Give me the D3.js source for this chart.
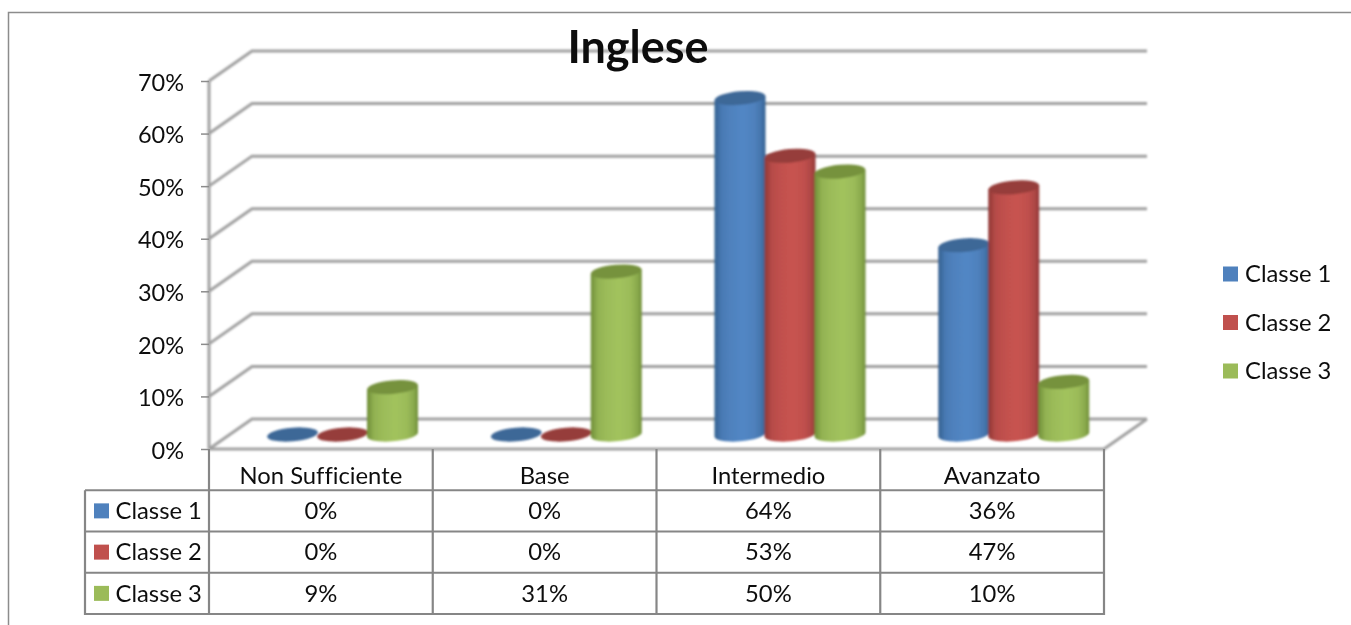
<!DOCTYPE html>
<html><head><meta charset="utf-8">
<script src="https://cdn.jsdelivr.net/npm/d3@7"></script>
<style>html,body{margin:0;background:#fff}svg{display:block}text{font-family:Lato,"Open Sans",sans-serif;fill:#111;font-variant-ligatures:none;font-feature-settings:"liga" 0}</style>
</head><body><svg id="c" width="1351" height="625"></svg>
<script>
const categories = ["Non Sufficiente","Base","Intermedio","Avanzato"];
const seriesNames = ["Classe 1","Classe 2","Classe 3"];
const classe1 = [0,0,64,36];
const classe2 = [0,0,53,47];
const classe3 = [9,31,50,10];
const allSeries = [classe1,classe2,classe3];
const yTicks = [0,10,20,30,40,50,60,70];
const colors = ["#4f81bd","#c0504d","#9bbb59"];
const tops = ["#3d6797","#963c3a","#76923c"];
const edges = ["#33608f","#8f3836","#6f8e38"];

const svg = d3.select("#c");
const defs = svg.append("defs");
defs.append("filter").attr("id","soft").append("feGaussianBlur").attr("stdDeviation",0.9);
defs.append("filter").attr("id","softText").append("feGaussianBlur").attr("stdDeviation",0.3);
colors.forEach((c,i)=>{
  const g = defs.append("linearGradient").attr("id","g"+i);
  [[0,edges[i]],[.14,d3.interpolateRgb(edges[i],c)(.8)],[.3,c],[.55,d3.color(c).brighter(.12)],[.78,c],[.92,d3.interpolateRgb(edges[i],c)(.6)],[1,edges[i]]]
    .forEach(s=>g.append("stop").attr("offset",s[0]).attr("stop-color",s[1]));
});

const frontL=209, frontR=1104, depthX=43, depthY=-30;
const y = d3.scaleLinear().domain([0,70]).range([449,81]);
const x = d3.scaleBand().domain(categories).range([frontL,frontR]);
const inner = d3.scalePoint().domain(seriesNames).range([84,184]);
const rowY = d3.scaleBand().domain(["head",...seriesNames]).range([449,614]);

// outer frame
svg.append("path").attr("d","M8.5,625V12.5H1351").attr("fill","none").attr("stroke","#8c8c8c").attr("stroke-width",1.5);

// walls / gridlines
const wall = svg.append("g").attr("filter","url(#soft)").attr("fill","none").attr("stroke","#a0a0a0").attr("stroke-width",3);
yTicks.forEach(t=>{
  wall.append("path").attr("d",`M${frontL},${y(t)}L${frontL+depthX},${y(t)+depthY}H${frontR+depthX}`);
});
wall.append("path").attr("d",`M${frontL},${y(0)}H${frontR}L${frontR+depthX},${y(0)+depthY}`);
wall.append("path").attr("d",`M${frontL},${y(0)}V${y(70)}`);

// y axis
const axis = svg.append("g").attr("transform",`translate(${frontL},0)`)
  .call(d3.axisLeft(y).tickValues(yTicks).tickFormat(d=>d+"%").tickSize(8).tickPadding(17));
axis.select(".domain").remove();
axis.selectAll("line").attr("stroke","#8c8c8c").attr("stroke-width",1.5);
axis.selectAll("text").attr("font-size",23.5).attr("dy","0.39em").style("font-family","Lato").attr("filter","url(#softText)");

// cylinders
const rx=25.5, ry=6.8, tilt=2, baseY=434.5, rot=-5;
const unit = y(0)-y(1);
const bars = svg.append("g").attr("filter","url(#soft)");
categories.forEach((cat,ci)=>{
  seriesNames.forEach((s,si)=>{
    const v = allSeries[si][ci];
    const cx = x(cat)+inner(s)-0.5;
    const top = baseY - v*unit;
    if(v>0){
      bars.append("path")
        .attr("d",`M${cx-rx},${top+tilt}L${cx-rx},${baseY+tilt}A${rx},${ry} ${rot} 0 0 ${cx+rx},${baseY-tilt}L${cx+rx},${top-tilt}Z`)
        .attr("fill",`url(#g${si})`);
    }
    bars.append("ellipse").attr("cx",cx).attr("cy",top).attr("rx",rx).attr("ry",ry)
      .attr("transform",`rotate(${rot} ${cx} ${top})`).attr("fill",tops[si]);
  });
});

// title
svg.append("text").attr("x",638).attr("y",62.5).attr("text-anchor","middle").attr("font-size",45).attr("font-weight",700).attr("filter","url(#softText)").text("Inglese");

// data table
const tbl = svg.append("g").attr("fill","none").attr("stroke","#868686").attr("stroke-width",2.2);
const keyL = 85;
[...categories.map(c=>x(c)),frontR].forEach(px=>tbl.append("line").attr("x1",px).attr("x2",px).attr("y1",449).attr("y2",615));
tbl.append("line").attr("x1",keyL).attr("x2",keyL).attr("y1",rowY(seriesNames[0])).attr("y2",615);
seriesNames.forEach(s=>tbl.append("line").attr("x1",keyL).attr("x2",frontR).attr("y1",rowY(s)).attr("y2",rowY(s)));
tbl.append("line").attr("x1",keyL).attr("x2",frontR).attr("y1",614).attr("y2",614);

const fs=23.8;
const labels = svg.append("g").attr("filter","url(#softText)");
categories.forEach(c=>{
  labels.append("text").attr("x",x(c)+x.bandwidth()/2).attr("y",rowY("head")+rowY.bandwidth()/2+14).attr("text-anchor","middle").attr("font-size",fs).text(c);
});
seriesNames.forEach((s,si)=>{
  const cy = rowY(s)+rowY.bandwidth()/2;
  svg.append("rect").attr("x",94).attr("y",cy-7.5).attr("width",15).attr("height",15).attr("fill",colors[si]);
  labels.append("text").attr("x",115.5).attr("y",cy+8.3).attr("font-size",fs).text(s);
  categories.forEach((c,ci)=>{
    labels.append("text").attr("x",x(c)+x.bandwidth()/2).attr("y",cy+8.3).attr("text-anchor","middle").attr("font-size",fs).text(allSeries[si][ci]+"%");
  });
});

// legend
const legY = d3.scalePoint().domain(seriesNames).range([274,371]);
seriesNames.forEach((s,si)=>{
  svg.append("rect").attr("x",1223).attr("y",legY(s)-7.5).attr("width",15).attr("height",15).attr("fill",colors[si]);
  labels.append("text").attr("x",1245).attr("y",legY(s)+8).attr("font-size",fs).text(s);
});
</script></body></html>
